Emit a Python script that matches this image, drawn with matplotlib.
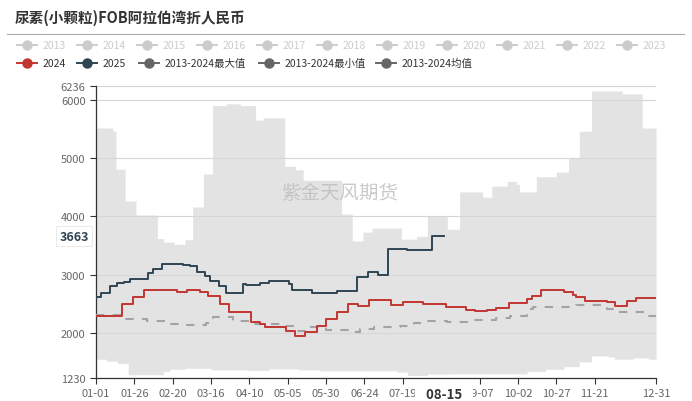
import numpy as np
import pandas as pd
import matplotlib
matplotlib.use('Agg')
import matplotlib.pyplot as plt
from matplotlib.lines import Line2D

plt.rcParams['font.family'] = ['Noto Sans CJK SC', 'DejaVu Sans']

# 数据（按图读取的阶梯变化点：日序号 -> 数值，2024闰年日历）
max_days = [0, 11, 13, 19, 26, 40, 44, 51, 58, 63, 70, 76, 85, 94, 104, 109, 123, 130, 135,
            160, 167, 174, 180, 199, 209, 216, 229, 237, 252, 258, 268, 274, 276, 287, 300,
            308, 315, 323, 343, 356]
max_vals = [5516, 5465, 4810, 4264, 4024, 3620, 3560, 3520, 3600, 4161, 4727, 5900, 5930, 5900,
            5650, 5690, 4860, 4800, 4620, 4040, 3580, 3730, 3800, 3610, 3660, 4010, 3780, 4420,
            4330, 4520, 4600, 4550, 4420, 4680, 4760, 5000, 5460, 6150, 6100, 5516]

min_days = [0, 7, 14, 21, 44, 48, 58, 75, 99, 113, 132, 146, 196, 203, 216, 234, 281, 293,
            305, 315, 323, 334, 338, 350, 360]
min_vals = [1552, 1519, 1480, 1286, 1341, 1380, 1397, 1369, 1358, 1386, 1369, 1352, 1330, 1274,
            1297, 1302, 1341, 1380, 1425, 1508, 1608, 1590, 1552, 1575, 1552]

mean_days = [0, 18, 33, 46, 59, 72, 76, 89, 100, 120, 130, 136, 150, 166, 172, 181, 198, 207,
             216, 229, 242, 261, 270, 281, 285, 313, 333, 339, 359]
mean_vals = [2310, 2240, 2200, 2160, 2140, 2180, 2270, 2215, 2160, 2115, 2040, 2097, 2060, 2023,
             2070, 2097, 2115, 2171, 2211, 2190, 2220, 2251, 2286, 2412, 2440, 2480, 2412, 2366, 2297]

y2024_days = [0, 17, 24, 31, 53, 59, 68, 73, 81, 87, 101, 107, 110, 124, 130, 136, 144, 150, 157,
              164, 171, 178, 192, 200, 213, 228, 241, 247, 255, 261, 269, 281, 284, 290, 305,
              311, 313, 319, 333, 338, 346, 352]
y2024_vals = [2290, 2497, 2617, 2737, 2710, 2737, 2710, 2640, 2497, 2365, 2194, 2160, 2097, 2040,
              1954, 2023, 2115, 2240, 2354, 2497, 2470, 2566, 2485, 2526, 2500, 2440, 2400, 2372,
              2400, 2429, 2509, 2583, 2640, 2737, 2700, 2650, 2612, 2543, 2530, 2469, 2543, 2600]

y2025_days = [0, 3, 9, 14, 18, 22, 34, 37, 43, 57, 61, 66, 71, 74, 80, 85, 96, 98, 107, 113, 126,
              128, 141, 157, 170, 177, 184, 190, 203, 219]
y2025_vals = [2620, 2690, 2800, 2860, 2880, 2920, 3030, 3100, 3190, 3170, 3150, 3050, 2980, 2890,
              2810, 2690, 2840, 2830, 2860, 2890, 2840, 2740, 2690, 2720, 2960, 3045, 2995, 3440,
              3420, 3663]
y2025_end = 228

dates = pd.date_range('2024-01-01', '2024-12-31')
tick_pos = [0, 25, 50, 75, 100, 125, 150, 175, 200, 250, 275, 300, 325, 365]
legend_grey = ['2013', '2014', '2015', '2016', '2017', '2018', '2019', '2020', '2021', '2022', '2023']


def fill_steps(days, vals, n):
    arr = np.empty(n)
    for i, d in enumerate(days):
        end = days[i + 1] if i + 1 < len(days) else n
        arr[d:end] = vals[i]
    return arr


n = len(dates)
x = np.arange(n)
s_max = fill_steps(max_days, max_vals, n)
s_min = fill_steps(min_days, min_vals, n)
s_mean = fill_steps(mean_days, mean_vals, n)
s2024 = fill_steps(y2024_days, y2024_vals, n)
s2025 = fill_steps(y2025_days, y2025_vals, y2025_end)

fig = plt.figure(figsize=(6.92, 4.02), dpi=100)
ax = fig.add_axes([96 / 692, 1 - 379 / 402, 560 / 692, (379 - 87) / 402])

ax.fill_between(x, s_min, s_max, step='post', color='#e3e3e3', lw=0, zorder=1)
for g in [2000, 3000, 4000, 5000, 6000, 6236]:
    ax.axhline(g, color='#d6d6d6', lw=0.8, zorder=2)
ax.plot(x, s_mean, drawstyle='steps-post', color='#a3a3a3', lw=1.5, ls=(0, (4, 4)), zorder=3)
ax.plot(x, s2024, drawstyle='steps-post', color='#c23531', lw=1.4, zorder=4)
ax.plot(np.arange(y2025_end), s2025, drawstyle='steps-post', color='#2f4554', lw=1.4, zorder=5)

ax.set_xlim(0, 365)
ax.set_ylim(1230, 6236)
ax.set_yticks([1230, 2000, 3000, 4000, 5000, 6000, 6236])
ax.set_xticks(tick_pos)
ax.set_xticklabels([dates[i].strftime('%m-%d') for i in tick_pos])
ax.tick_params(axis='both', colors='#333333', labelcolor='#666666', labelsize=8, length=4, width=0.8)
for sp in ['top', 'right']:
    ax.spines[sp].set_visible(False)
for sp in ['left', 'bottom']:
    ax.spines[sp].set_color('#333333')
    ax.spines[sp].set_linewidth(0.9)

# 指示器标签
ax.annotate('   ' + dates[227].strftime('%m-%d') + '   ', xy=(227, 0), xycoords=('data', 'axes fraction'),
            xytext=(0, -6.5), textcoords='offset points', ha='center', va='top',
            fontsize=9.5, fontweight='bold', color='#333333', zorder=10, annotation_clip=False,
            bbox=dict(boxstyle='square,pad=0.15', fc='white', ec='none'))
ax.annotate(str(y2025_vals[-1]), xy=(0, y2025_vals[-1]), xycoords=('axes fraction', 'data'),
            xytext=(-5, 0), textcoords='offset points', ha='right', va='center',
            fontsize=9, fontweight='bold', color='#2f4554', zorder=10, annotation_clip=False,
            bbox=dict(boxstyle='square,pad=0.25', fc='white', ec='#e6e6e6', lw=0.6))

# 水印
ax.text(0.435, 0.635, '紫金天风期货', transform=ax.transAxes, ha='center', va='center',
        fontsize=14, color='#bdbdbd', alpha=0.8, zorder=6)

# 标题与图例（像素坐标叠加层）
ov = fig.add_axes([0, 0, 1, 1], zorder=-1)
ov.set_xlim(0, 692)
ov.set_ylim(402, 0)
ov.axis('off')
ov.text(15, 18, '尿素(小颗粒)FOB阿拉伯湾折人民币', fontsize=10.5, fontweight='bold',
        color='#333333', va='center', ha='left')
ov.plot([7, 684], [35, 35], color='#aaaaaa', lw=0.8)


def legend_item(xm, y, color, label, tcolor):
    ov.add_line(Line2D([xm - 10, xm + 10], [y, y], color=color, lw=1.4))
    ov.plot(xm, y, 'o', ms=6.5, color=color)
    ov.text(xm + 16, y, label, fontsize=7.5, color=tcolor, va='center', ha='left')


for i, lab in enumerate(legend_grey):
    legend_item(27 + 60 * i, 46, '#cccccc', lab, '#cccccc')
legend_item(27, 64, '#c23531', '2024', '#333333')
legend_item(87, 64, '#2f4554', '2025', '#333333')
legend_item(149, 64, '#666666', '2013-2024最大值', '#333333')
legend_item(269, 64, '#666666', '2013-2024最小值', '#333333')
legend_item(386, 64, '#666666', '2013-2024均值', '#333333')

fig.savefig('out.png', dpi=100)
